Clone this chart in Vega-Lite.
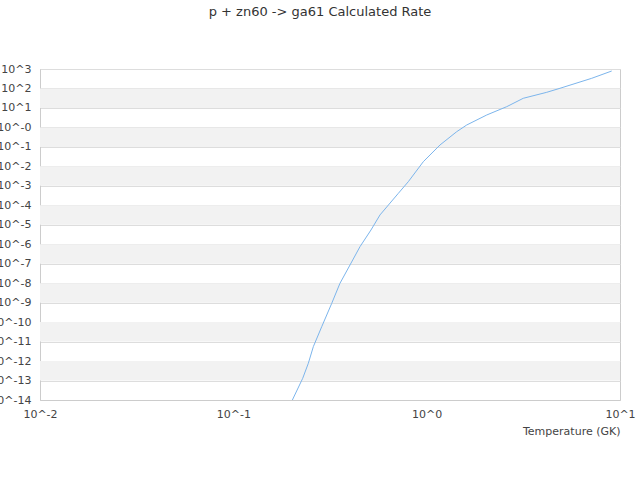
{
  "$schema": "https://vega.github.io/schema/vega-lite/v6.json",
  "autosize": {"type": "none"},
  "padding": {"left": 40, "top": 69, "right": 20, "bottom": 80},
  "width": 580,
  "height": 331,
  "background": "white",
  "config": {
    "font": "DejaVu Sans",
    "view": {"stroke": "#cccccc"}
  },
  "title": {
    "text": "p + zn60 -> ga61 Calculated Rate",
    "fontSize": 13,
    "fontWeight": "normal",
    "color": "#333333",
    "offset": 44,
    "dx": -10
  },
  "datasets": {
    "bands": [
      {"lo": 1e1, "hi": 1e2},
      {"lo": 1e-1, "hi": 1e0},
      {"lo": 1e-3, "hi": 1e-2},
      {"lo": 1e-5, "hi": 1e-4},
      {"lo": 1e-7, "hi": 1e-6},
      {"lo": 1e-9, "hi": 1e-8},
      {"lo": 1e-11, "hi": 1e-10},
      {"lo": 1e-13, "hi": 1e-12}
    ],
    "rate": [
      {"T": 0.202, "rate": 1.0e-14},
      {"T": 0.2285, "rate": 1.3e-13},
      {"T": 0.2443, "rate": 7.7e-13},
      {"T": 0.2593, "rate": 5.5e-12},
      {"T": 0.2865, "rate": 5.8e-11},
      {"T": 0.3228, "rate": 9.2e-10},
      {"T": 0.356, "rate": 9.8e-9},
      {"T": 0.4013, "rate": 8.6e-8},
      {"T": 0.452, "rate": 7.5e-7},
      {"T": 0.5153, "rate": 5.4e-6},
      {"T": 0.5736, "rate": 3.2e-5},
      {"T": 0.7134, "rate": 4.1e-4},
      {"T": 0.8035, "rate": 1.63e-3},
      {"T": 0.9607, "rate": 0.0173},
      {"T": 1.172, "rate": 0.125},
      {"T": 1.43, "rate": 0.602},
      {"T": 1.611, "rate": 1.33},
      {"T": 2.045, "rate": 4.34},
      {"T": 2.594, "rate": 11.6},
      {"T": 3.16, "rate": 31.3},
      {"T": 4.18, "rate": 63.6},
      {"T": 4.89, "rate": 102},
      {"T": 7.14, "rate": 333},
      {"T": 9.06, "rate": 789}
    ]
  },
  "layer": [
    {
      "data": {"name": "bands"},
      "mark": {"type": "rect", "color": "#f2f2f2"},
      "encoding": {
        "y": {"field": "lo", "type": "quantitative", "scale": {"type": "log", "domain": [1e-14, 1e3]}},
        "y2": {"field": "hi"}
      }
    },
    {
      "data": {"name": "rate"},
      "mark": {"type": "line", "color": "#7cb5ec", "strokeWidth": 1, "clip": true},
      "encoding": {
        "x": {
          "field": "T",
          "type": "quantitative",
          "scale": {"type": "log", "domain": [0.01, 10]},
          "axis": {
            "title": "Temperature (GK)",
            "values": [0.01, 0.1, 1, 10],
            "labelExpr": "'10^' + round(log(datum.value) / LN10)",
            "grid": false,
            "ticks": false,
            "domainColor": "#cccccc",
            "labelColor": "#444444",
            "labelFontSize": 11,
            "labelPadding": 8,
            "labelFlush": false,
            "labelOverlap": false,
            "titleColor": "#444444",
            "titleFontSize": 11,
            "titleFontWeight": "normal",
            "titleAnchor": "end",
            "titlePadding": 6
          }
        },
        "y": {
          "field": "rate",
          "type": "quantitative",
          "scale": {"type": "log", "domain": [1e-14, 1e3]},
          "axis": {
            "title": null,
            "values": [1e-14, 1e-13, 1e-12, 1e-11, 1e-10, 1e-9, 1e-8, 1e-7, 1e-6, 1e-5, 1e-4, 1e-3, 1e-2, 1e-1, 1, 10, 100, 1000],
            "labelExpr": "datum.value > 1 ? '10^' + round(log(datum.value) / LN10) : '10^-' + round(-log(datum.value) / LN10)",
            "gridColor": "#dddddd",
            "ticks": false,
            "domainColor": "#cccccc",
            "labelColor": "#444444",
            "labelFontSize": 11,
            "labelPadding": 9,
            "labelFlush": false,
            "labelOverlap": false
          }
        }
      }
    }
  ]
}
